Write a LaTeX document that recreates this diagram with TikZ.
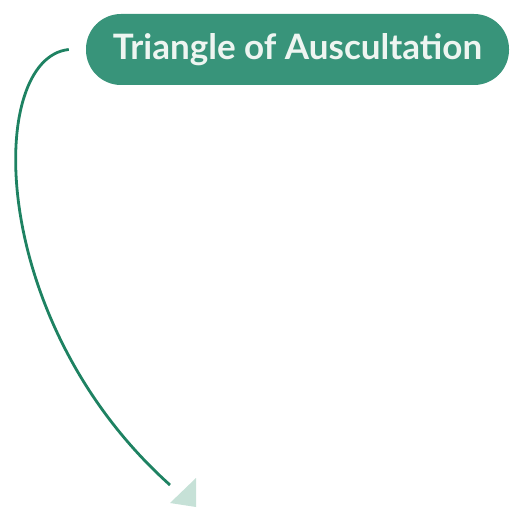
\documentclass[tikz,border=0pt]{standalone}
\usepackage{fontspec}
\setmainfont{Lato}
\usetikzlibrary{positioning}
\definecolor{pillgreen}{HTML}{38947A}
\definecolor{linkgreen}{HTML}{1E8262}
\definecolor{tipgreen}{HTML}{C6E1D7}
\definecolor{textwhite}{HTML}{EEF5F1}

\begin{document}
\begin{tikzpicture}[x=1pt,y=-1pt,
        topic/.style={fill=pillgreen,text=textwhite,rounded corners=35pt,
            minimum width=423pt,minimum height=71pt,inner sep=0pt,
            font=\fontsize{35}{38}\selectfont\bfseries},
        link/.style={draw=linkgreen,line width=2.8pt}]
    \useasboundingbox (0,0) rectangle (519,518);

    \node[topic] (title) at (297.5,49.5) {Triangle of Auscultation};
    \coordinate[left=17pt of title] (start);
    \coordinate (tip) at (170,485);

    \draw[link] (start) .. controls (-14,58) and (-14,320) .. (tip);
    \fill[tipgreen] (170,503) -- (196,478) -- (196,507) -- cycle;
\end{tikzpicture}
\end{document}
